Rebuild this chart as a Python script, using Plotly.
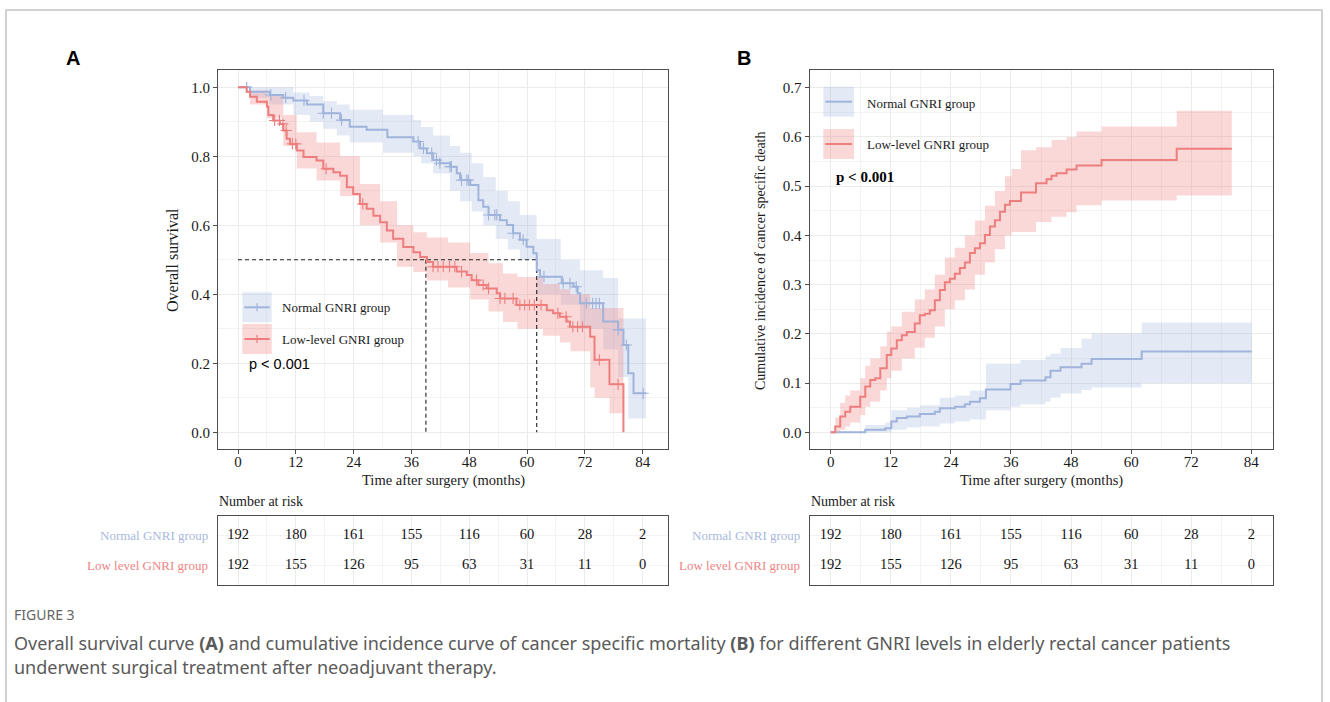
import plotly.graph_objects as go

# ---------------- DATA ----------------
# Panel A: Kaplan-Meier overall survival
a_norm_t = [0, 2.5, 6.6, 9.4, 11.5, 14.3, 17.7, 21.2, 23.2, 26.7, 31.0, 36.4, 37.8, 39.2, 40.5, 41.9, 44.0, 45.4, 46.1,
            48.2, 49.9, 50.9, 52.0, 54.4, 55.8, 57.1, 58.5, 59.9, 61.3, 62.0, 62.7, 67.2, 69.6, 70.5, 71.0, 75.8, 78.9,
            80.0, 81.0, 82.1, 84.7]
a_norm_s = [1.0, 0.987, 0.978, 0.97, 0.962, 0.95, 0.925, 0.905, 0.886, 0.877, 0.855, 0.843, 0.823, 0.809, 0.789, 0.78,
            0.77, 0.751, 0.731, 0.717, 0.673, 0.654, 0.63, 0.615, 0.601, 0.577, 0.558, 0.538, 0.519, 0.47, 0.451, 0.432,
            0.422, 0.403, 0.374, 0.321, 0.297, 0.253, 0.171, 0.113, 0.113]
a_norm_band_t = [0, 2.5, 6.6, 11.5, 14.9, 17.7, 20.5, 23.2, 30.1, 36.4, 38.0, 40.5, 44.0, 46.1, 48.5, 50.9, 53.5, 56.0,
                 58.5, 62.0, 67.0, 71.0, 75.8, 78.9, 81.0, 84.7]
a_norm_hi = [1.0, 1.0, 1.0, 0.985, 0.975, 0.96, 0.95, 0.935, 0.92, 0.905, 0.885, 0.86, 0.83, 0.81, 0.78, 0.74, 0.70,
             0.67, 0.63, 0.56, 0.50, 0.47, 0.447, 0.33, 0.33, 0.33]
a_norm_lo = [1.0, 0.97, 0.95, 0.92, 0.90, 0.88, 0.86, 0.84, 0.81, 0.80, 0.78, 0.75, 0.70, 0.67, 0.64, 0.60, 0.56, 0.53,
             0.50, 0.40, 0.37, 0.30, 0.24, 0.16, 0.04, 0.04]
a_norm_cens = [1.8, 6.8, 9.9, 13.7, 17.7, 19.4, 21.5, 37.4, 38.5, 40.2, 41.2, 41.9, 44.0, 44.3, 46.4, 47.5, 47.8, 52.0,
               53.3, 53.7, 57.1, 59.2, 63.5, 67.5, 68.9, 70.2, 72.3, 73.6, 74.3, 75.0, 78.9, 80.6, 84.1]

a_low_t = [0, 1.8, 2.5, 3.9, 6.0, 6.3, 7.3, 8.7, 9.4, 10.1, 10.8, 12.2, 13.6, 16.3, 17.7, 19.8, 21.2, 22.6, 23.9, 25.3,
           26.7, 28.1, 29.5, 30.9, 32.2, 34.3, 36.4, 37.8, 39.2, 40.5, 45.4, 47.5, 48.5, 49.9, 51.6, 53.7, 54.4, 57.8,
           64.1, 65.4, 66.8, 68.2, 68.9, 73.1, 74.0, 77.1, 80.0]
a_low_s = [1.0, 0.987, 0.973, 0.958, 0.944, 0.92, 0.904, 0.894, 0.875, 0.851, 0.836, 0.817, 0.798, 0.788, 0.764, 0.754,
           0.744, 0.71, 0.691, 0.662, 0.648, 0.628, 0.609, 0.585, 0.561, 0.537, 0.522, 0.508, 0.494, 0.48, 0.466, 0.456,
           0.441, 0.427, 0.417, 0.403, 0.388, 0.369, 0.354, 0.345, 0.335, 0.321, 0.306, 0.277, 0.21, 0.139, 0.0]
a_low_band_t = [0, 2.5, 6.0, 9.4, 12.2, 16.3, 21.2, 25.3, 29.5, 33.0, 36.4, 39.2, 43.6, 48.2, 52.0, 55.0, 58.0, 63.3,
                66.8, 69.0, 73.1, 74.0, 77.1, 80.0]
a_low_hi = [1.0, 0.99, 0.975, 0.92, 0.87, 0.84, 0.80, 0.72, 0.67, 0.60, 0.58, 0.565, 0.55, 0.52, 0.49, 0.46, 0.45, 0.43,
            0.415, 0.40, 0.36, 0.36, 0.36, 0.36]
a_low_lo = [1.0, 0.95, 0.91, 0.83, 0.765, 0.73, 0.685, 0.60, 0.55, 0.48, 0.465, 0.44, 0.42, 0.385, 0.35, 0.32, 0.30,
            0.28, 0.26, 0.235, 0.13, 0.10, 0.055, 0.055]
a_low_cens = [7.6, 8.6, 9.3, 10.0, 11.3, 12.0, 18.3, 25.9, 40.5, 41.5, 42.6, 43.9, 45.0, 46.4, 49.5, 50.9, 52.0, 54.4,
              55.4, 57.1, 58.5, 59.5, 60.5, 61.5, 62.9, 66.4, 68.1, 69.5, 70.5, 71.5, 75.0, 78.9]

median_low = 39.0
median_norm = 62.0

# Panel B: cumulative incidence of cancer specific death
b_norm_t = [0, 6.9, 10.9, 12.1, 13.2, 15.2, 17.8, 20.8, 21.8, 24.8, 26.8, 27.8, 29.8, 31.0, 35.9, 37.9, 42.9, 43.9,
            45.9, 50.1, 52.1, 62.1, 84.1]
b_norm_c = [0, 0.005, 0.008, 0.022, 0.029, 0.032, 0.037, 0.042, 0.049, 0.052, 0.057, 0.062, 0.069, 0.087, 0.098, 0.105,
            0.112, 0.125, 0.132, 0.139, 0.149, 0.164, 0.164]
b_norm_band_t = [0, 6.9, 10.9, 12.1, 15.2, 17.8, 21.8, 24.8, 27.8, 31.0, 35.9, 37.9, 42.9, 43.9, 45.9, 50.1, 52.1, 62.1,
                 84.1]
b_norm_hi = [0, 0.015, 0.02, 0.045, 0.05, 0.055, 0.07, 0.075, 0.085, 0.14, 0.14, 0.147, 0.155, 0.16, 0.171, 0.19, 0.201,
             0.223, 0.223]
b_norm_lo = [0, 0, 0, 0.005, 0.01, 0.012, 0.018, 0.022, 0.026, 0.045, 0.052, 0.057, 0.062, 0.07, 0.079, 0.086, 0.091,
             0.0995, 0.0995]

b_low_t = [0, 0.9, 1.9, 2.9, 3.9, 5.9, 6.9, 7.9, 8.9, 9.9, 11.2, 12.1, 13.2, 14.2, 15.2, 16.8, 17.8, 18.8, 19.8, 20.8,
           21.8, 22.8, 23.8, 24.8, 25.8, 26.8, 27.8, 28.8, 29.8, 30.8, 31.8, 32.8, 33.8, 34.8, 35.8, 38.0, 41.0, 43.1,
           44.1, 45.1, 47.1, 49.1, 54.1, 69.1, 80.1]
b_low_c = [0, 0.012, 0.032, 0.042, 0.052, 0.072, 0.093, 0.106, 0.11, 0.13, 0.157, 0.17, 0.187, 0.197, 0.204, 0.221,
           0.238, 0.241, 0.248, 0.268, 0.289, 0.305, 0.312, 0.322, 0.334, 0.345, 0.364, 0.374, 0.384, 0.401, 0.418,
           0.431, 0.448, 0.462, 0.470, 0.487, 0.506, 0.514, 0.521, 0.526, 0.534, 0.542, 0.553, 0.576, 0.576]
b_low_band_t = [0, 0.9, 1.9, 2.9, 3.9, 5.9, 6.9, 7.9, 9.9, 11.2, 12.1, 14.2, 16.8, 18.8, 20.8, 22.8, 24.8, 26.8, 28.8,
                30.8, 32.8, 34.8, 36.1, 38.0, 41.0, 44.1, 47.1, 49.1, 54.1, 69.1, 80.1]
b_low_hi = [0, 0.03, 0.06, 0.075, 0.085, 0.11, 0.135, 0.15, 0.175, 0.205, 0.215, 0.245, 0.27, 0.29, 0.32, 0.355, 0.375,
            0.40, 0.43, 0.46, 0.49, 0.52, 0.535, 0.573, 0.579, 0.594, 0.60, 0.611, 0.621, 0.653, 0.653]
b_low_lo = [0, 0, 0.005, 0.012, 0.02, 0.035, 0.052, 0.062, 0.085, 0.11, 0.125, 0.15, 0.172, 0.192, 0.215, 0.25, 0.268,
            0.29, 0.32, 0.345, 0.372, 0.40, 0.407, 0.407, 0.427, 0.438, 0.447, 0.461, 0.471, 0.481, 0.481]

# Number at risk
risk_times = [0, 12, 24, 36, 48, 60, 72, 84]
risk_norm = [192, 180, 161, 155, 116, 60, 28, 2]
risk_low = [192, 155, 126, 95, 63, 31, 11, 0]

group_names = ["Normal GNRI group", "Low-level GNRI group"]
risk_row_names = ["Normal GNRI group", "Low level GNRI group"]
x_ticks = [0, 12, 24, 36, 48, 60, 72, 84]
a_y_ticks = [0.0, 0.2, 0.4, 0.6, 0.8, 1.0]
b_y_ticks = [0.0, 0.1, 0.2, 0.3, 0.4, 0.5, 0.6, 0.7]

# ---------------- STYLE ----------------
W, H = 1330, 702
BLUE = "#9fb3db"
RED = "#ee7e7e"
BLUE_FILL = "rgba(159,179,219,0.28)"
RED_FILL = "rgba(238,126,126,0.30)"
BLUE_TXT = "#a8b8dc"
RED_TXT = "#f08484"
SERIF = "Liberation Serif, Times New Roman, serif"
SANS = "Liberation Sans, Arial, sans-serif"
FRAME = "#4d4d4d"
GRID = "#ebebeb"
GRID_MINOR = "#f3f3f3"


def px(x):
    return x / W


def py(y):
    return 1 - y / H


def step_xy(t, v):
    xs, ys = [], []
    for i in range(len(t)):
        if i > 0:
            xs.append(t[i]); ys.append(v[i - 1])
        xs.append(t[i]); ys.append(v[i])
    return xs, ys


def band_poly(t, lo, hi):
    xu, yu = step_xy(t, hi)
    xl, yl = step_xy(t, lo)
    return xu + xl[::-1], yu + yl[::-1]


def step_lookup(t, v, c):
    val = v[0]
    for ti, vi in zip(t, v):
        if ti <= c:
            val = vi
    return val


fig = go.Figure()

# ---- Panel A ----
for bt, lo, hi, fc in [(a_norm_band_t, a_norm_lo, a_norm_hi, BLUE_FILL), (a_low_band_t, a_low_lo, a_low_hi, RED_FILL)]:
    bx, by = band_poly(bt, lo, hi)
    fig.add_trace(go.Scatter(x=bx, y=by, fill="toself", fillcolor=fc, line=dict(width=0), mode="lines",
                             hoverinfo="skip", xaxis="x", yaxis="y"))

# median dashed lines
fig.add_trace(go.Scatter(x=[0, median_norm, median_norm], y=[0.5, 0.5, 0.0], mode="lines",
                         line=dict(color="#222", width=1.1, dash="4px,3px"), xaxis="x", yaxis="y"))
fig.add_trace(go.Scatter(x=[median_low, median_low], y=[0.5, 0.0], mode="lines",
                         line=dict(color="#222", width=1.1, dash="4px,3px"), xaxis="x", yaxis="y"))

for t, s, cens, col in [(a_norm_t, a_norm_s, a_norm_cens, BLUE), (a_low_t, a_low_s, a_low_cens, RED)]:
    fig.add_trace(go.Scatter(x=t, y=s, mode="lines", line=dict(color=col, width=2, shape="hv"),
                             xaxis="x", yaxis="y"))
    fig.add_trace(go.Scatter(x=cens, y=[step_lookup(t, s, c) for c in cens], mode="markers",
                             marker=dict(symbol="cross-thin", size=8, line=dict(color=col, width=1.1)),
                             xaxis="x", yaxis="y"))

# ---- Panel B ----
for bt, lo, hi, fc in [(b_norm_band_t, b_norm_lo, b_norm_hi, BLUE_FILL), (b_low_band_t, b_low_lo, b_low_hi, RED_FILL)]:
    bx, by = band_poly(bt, lo, hi)
    fig.add_trace(go.Scatter(x=bx, y=by, fill="toself", fillcolor=fc, line=dict(width=0), mode="lines",
                             hoverinfo="skip", xaxis="x2", yaxis="y2"))
for t, c, col in [(b_norm_t, b_norm_c, BLUE), (b_low_t, b_low_c, RED)]:
    fig.add_trace(go.Scatter(x=t, y=c, mode="lines", line=dict(color=col, width=2, shape="hv"),
                             xaxis="x2", yaxis="y2"))

# ---- Risk tables ----
for xa, ya in [("x3", "y3"), ("x4", "y4")]:
    fig.add_trace(go.Scatter(x=risk_times, y=[2] * len(risk_times), mode="text",
                             text=[str(v) for v in risk_norm], textfont=dict(family=SERIF, size=14.5, color="#111"),
                             xaxis=xa, yaxis=ya))
    fig.add_trace(go.Scatter(x=risk_times, y=[1] * len(risk_times), mode="text",
                             text=[str(v) for v in risk_low], textfont=dict(family=SERIF, size=14.5, color="#111"),
                             xaxis=xa, yaxis=ya))

# ---------------- AXES ----------------
A_DOM = [px(218), px(668)]
B_DOM = [px(809.5), px(1272.5)]
PLOT_Y = [py(449), py(70)]
TAB_Y = [py(585), py(516)]
A_XR = [-4.151, 89.25]
B_XR = [-4.234, 88.23]


def xax(dom, rng, anchor, labels=True):
    return dict(domain=dom, range=rng, anchor=anchor, tickvals=x_ticks, showticklabels=labels,
                ticks="outside" if labels else "", ticklen=4, tickcolor=FRAME, tickwidth=1,
                ticklabelstandoff=-5,
                tickfont=dict(family=SERIF, size=15, color="#1a1a1a"),
                showgrid=True, gridcolor=GRID, gridwidth=1,
                minor=dict(dtick=6, tick0=0, showgrid=True, gridcolor=GRID_MINOR, gridwidth=1),
                showline=True, linecolor=FRAME, linewidth=1, mirror=True, zeroline=False, fixedrange=True)


def yax(dom, rng, anchor, ticks, minor_dt):
    return dict(domain=dom, range=rng, anchor=anchor, tickvals=ticks, ticktext=[f"{v:.1f}" for v in ticks],
                ticks="outside", ticklen=4, tickcolor=FRAME, tickwidth=1,
                tickfont=dict(family=SERIF, size=15, color="#1a1a1a"),
                showgrid=True, gridcolor=GRID, gridwidth=1,
                minor=dict(dtick=minor_dt, tick0=0, showgrid=True, gridcolor=GRID_MINOR, gridwidth=1),
                showline=True, linecolor=FRAME, linewidth=1, mirror=True, zeroline=False, fixedrange=True)


def tab_y(dom, anchor):
    return dict(domain=dom, range=[0.35, 2.65], anchor=anchor, tickvals=[1, 2], showticklabels=False, ticks="",
                showgrid=True, gridcolor=GRID_MINOR, showline=True, linecolor=FRAME, linewidth=1, mirror=True,
                zeroline=False, fixedrange=True)


layout = dict(
    width=W, height=H, margin=dict(l=0, r=0, t=0, b=0), paper_bgcolor="white", plot_bgcolor="white",
    showlegend=False,
    xaxis=xax(A_DOM, A_XR, "y"), yaxis=yax(PLOT_Y, [-0.0484, 1.0502], "x", a_y_ticks, 0.1),
    xaxis2=xax(B_DOM, B_XR, "y2"), yaxis2=yax(PLOT_Y, [-0.03392, 0.73596], "x2", b_y_ticks, 0.05),
    xaxis3=xax(A_DOM, A_XR, "y3", labels=False), yaxis3=tab_y(TAB_Y, "x3"),
    xaxis4=xax(B_DOM, B_XR, "y4", labels=False), yaxis4=tab_y(TAB_Y, "x4"),
)
fig.update_layout(**layout)

ann = []
shapes = []


def text(x, y, s, size, family=SERIF, color="#1a1a1a", xanchor="left", angle=0, bold=False):
    ann.append(dict(x=px(x), y=py(y), xref="paper", yref="paper", text=f"<b>{s}</b>" if bold else s,
                    showarrow=False, xanchor=xanchor, yanchor="middle", textangle=angle,
                    font=dict(family=family, size=size, color=color)))


# panel letters
text(64, 58, "A", 20, family=SANS, color="#000", bold=True)
text(735, 58, "B", 20, family=SANS, color="#000", bold=True)

# axis titles
text(443, 480, "Time after surgery (months)", 14.5, xanchor="center")
text(1041, 480, "Time after surgery (months)", 14.5, xanchor="center")
text(172, 260, "Overall survival", 16, xanchor="center", angle=-90)
text(760, 261, "Cumulative incidence of cancer specific death", 14, xanchor="center", angle=-90)

# p values
text(247, 364, "p &lt; 0.001", 14.5, family=SANS, color="#000")
text(834, 177, "p &lt; 0.001", 15, color="#000", bold=True)


# legends
def legend_key(x0, y0, x1, y1, fill, col, plus):
    shapes.append(dict(type="rect", xref="paper", yref="paper", x0=px(x0), x1=px(x1), y0=py(y1), y1=py(y0),
                       fillcolor=fill, line=dict(width=0), layer="above"))
    ym = (y0 + y1) / 2
    shapes.append(dict(type="line", xref="paper", yref="paper", x0=px(x0 + 2), x1=px(x1 - 2), y0=py(ym), y1=py(ym),
                       line=dict(color=col, width=2), layer="above"))
    if plus:
        xm = (x0 + x1) / 2
        shapes.append(dict(type="line", xref="paper", yref="paper", x0=px(xm), x1=px(xm), y0=py(ym - 4),
                           y1=py(ym + 4), line=dict(color=col, width=1.2), layer="above"))


legend_key(242.3, 292.3, 271.7, 322.3, BLUE_FILL, BLUE, True)
legend_key(242.3, 324, 271.7, 354, RED_FILL, RED, True)
text(280, 307.5, group_names[0], 13)
text(280, 339.5, group_names[1], 13)

legend_key(823.3, 86.7, 854, 116.7, BLUE_FILL, BLUE, False)
legend_key(823.3, 129, 854, 159, RED_FILL, RED, False)
text(865, 103.5, group_names[0], 13)
text(865, 145, group_names[1], 13)

# risk tables labels
text(217, 501, "Number at risk", 14)
text(809, 501, "Number at risk", 14)
text(210, 535, risk_row_names[0], 13, color=BLUE_TXT, xanchor="right")
text(210, 565, risk_row_names[1], 13, color=RED_TXT, xanchor="right")
text(802, 535, risk_row_names[0], 13, color=BLUE_TXT, xanchor="right")
text(802, 565, risk_row_names[1], 13, color=RED_TXT, xanchor="right")

# caption
CAP = "Noto Sans, Open Sans, sans-serif"
text(12, 614, "FIGURE 3", 14, family=CAP, color="#666")
text(12, 643, "Overall survival curve <b>(A)</b> and cumulative incidence curve of cancer specific mortality "
              "<b>(B)</b> for different GNRI levels in elderly rectal cancer patients", 18, family=CAP, color="#5a5a5a")
text(12, 667, "underwent surgical treatment after neoadjuvant therapy.", 18, family=CAP, color="#5a5a5a")

# outer frame
shapes.append(dict(type="rect", xref="paper", yref="paper", x0=px(6), x1=px(1322), y0=-0.05, y1=py(10),
                   line=dict(color="#c4c4c4", width=1.5), fillcolor="rgba(0,0,0,0)", layer="above"))

fig.update_layout(annotations=ann, shapes=shapes)
fig.write_html("out.html")
